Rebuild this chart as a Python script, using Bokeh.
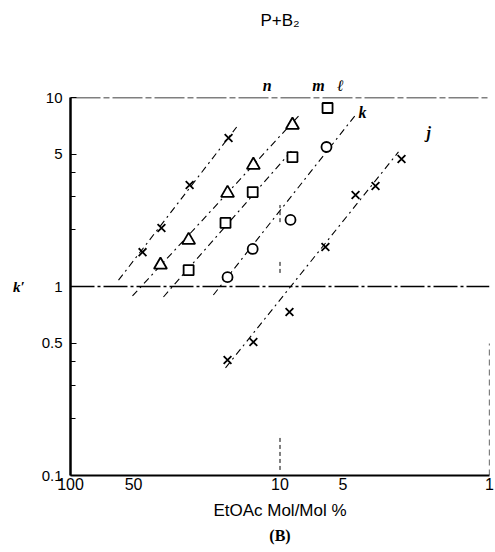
from bokeh.plotting import figure
from bokeh.models import (Range1d, FixedTicker, Span, Label, LogAxis,
                          AllLabels, CustomJSTickFormatter)
from bokeh.embed import file_html
from bokeh.resources import INLINE

# ---- data ----
# series n (x markers)
n_x = [45.3, 36.8, 27.0, 17.6]
n_y = [1.52, 2.04, 3.44, 6.1]
# series m (triangles)
m_x = [37.2, 27.3, 17.8, 13.4, 8.72]
m_y = [1.30, 1.76, 3.12, 4.39, 7.15]
# series l (squares)
l_x = [27.3, 18.2, 13.5, 8.72, 5.93]
l_y = [1.22, 2.17, 3.16, 4.84, 8.8]
# series k (circles)
k_x = [17.8, 13.5, 8.91, 6.0]
k_y = [1.12, 1.58, 2.25, 5.47]
# series j (x markers)
j_x = [17.8, 13.4, 9.01, 6.07, 4.36, 3.50, 2.63]
j_y = [0.408, 0.508, 0.733, 1.62, 3.05, 3.40, 4.73]

# fitted lines (end points)
n_fit_x = [59.0, 16.1]
n_fit_y = [1.08, 6.98]
m_fit_x = [50.6, 8.16]
m_fit_y = [0.891, 7.98]
l_fit_x = [36.0, 8.72]
l_fit_y = [0.880, 5.28]
k_fit_x = [20.8, 4.36]
k_fit_y = [0.902, 8.08]
j_fit_x = [18.2, 2.72]
j_fit_y = [0.371, 5.15]

# series labels above the frame (n, m, l) and inside (k, j)
top_names = ["n", "m", "\u2113"]
top_lab_x = [11.5, 6.55, 5.14]
in_names = ["k", "j"]
in_lab_x = [4.04, 1.95]
in_lab_y = [8.38, 6.49]

# reference line pieces at 10 %
ref_x = [10, 10, 10]
ref_y0 = [2.19, 1.18, 0.107]
ref_y1 = [2.70, 1.35, 0.164]

# tick labels
x_ticks = [100, 50, 10, 5, 1]
x_tick_labels = ["100", "50", "10", "5", "1"]
y_ticks = [0.1, 0.5, 1, 5, 10]
y_tick_labels = ["0.1", "0.5", "1", "5", "10"]
y_minor = [0.2, 0.3, 0.4, 2, 3, 4]

title_text = "P+B\u2082"
sub_text = "(B)"
x_label = "EtOAc Mol/Mol %"
y_label = "k\u2032"

FONT = "Liberation Sans"
SERIF = "Liberation Serif"

LOOKUP = """
for (let i = 0; i < tvals.length; i++) {
  if (Math.abs(tvals[i] - tick) <= 1e-6 * Math.abs(tvals[i])) { return tlabs[i]; }
}
return "";
"""


def fmt(vals, labs):
    return CustomJSTickFormatter(args=dict(tvals=list(vals), tlabs=list(labs)),
                                 code=LOOKUP)


p = figure(width=495, height=552, x_axis_type="log", y_axis_type="log",
           x_range=Range1d(100, 1), y_range=Range1d(0.1, 10),
           output_backend="svg", toolbar_location=None,
           min_border_left=70, min_border_right=6,
           min_border_top=97, min_border_bottom=77)
p.outline_line_color = None
p.xgrid.visible = False
p.ygrid.visible = False
p.background_fill_color = "white"
p.border_fill_color = "white"

# bottom axis
p.xaxis.ticker = FixedTicker(ticks=x_ticks)
p.xaxis.formatter = fmt(x_ticks, x_tick_labels)
p.xaxis.major_label_policy = AllLabels()
p.xaxis.major_tick_in = 0
p.xaxis.major_tick_out = 0
p.xaxis.minor_tick_in = 0
p.xaxis.minor_tick_out = 0
p.xaxis.axis_line_width = 2
p.xaxis.axis_line_color = "black"
p.xaxis.major_label_text_font = FONT
p.xaxis.major_label_text_font_size = "16px"
p.xaxis.major_label_text_color = "black"
p.xaxis.major_label_standoff = 2
p.xaxis.axis_label = x_label
p.xaxis.axis_label_text_font = FONT
p.xaxis.axis_label_text_font_size = "17px"
p.xaxis.axis_label_text_font_style = "normal"
p.xaxis.axis_label_text_color = "black"
p.xaxis.axis_label_standoff = 8

# left axis
p.yaxis.ticker = FixedTicker(ticks=y_ticks, minor_ticks=y_minor)
p.yaxis.formatter = fmt(y_ticks, y_tick_labels)
p.yaxis.major_label_policy = AllLabels()
p.yaxis.major_tick_in = 6
p.yaxis.major_tick_out = 0
p.yaxis.minor_tick_in = 5
p.yaxis.minor_tick_out = 0
p.yaxis.axis_line_width = 2.5
p.yaxis.axis_line_color = "black"
p.yaxis.major_label_text_font = FONT
p.yaxis.major_label_text_font_size = "15px"
p.yaxis.major_label_text_color = "black"
p.yaxis.major_label_standoff = 8
p.yaxis.axis_label = y_label
p.yaxis.axis_label_orientation = "horizontal"
p.yaxis.axis_label_text_font = SERIF
p.yaxis.axis_label_text_font_size = "15px"
p.yaxis.axis_label_text_font_style = "bold italic"
p.yaxis.axis_label_text_color = "black"
p.yaxis.axis_label_standoff = 14

# top axis carrying the series names n, m, l and the title
top = LogAxis(ticker=FixedTicker(ticks=top_lab_x),
              formatter=fmt(top_lab_x, top_names),
              major_label_policy=AllLabels(),
              axis_line_color=None, major_tick_in=0, major_tick_out=0,
              minor_tick_in=0, minor_tick_out=0,
              major_label_standoff=4,
              major_label_text_font=SERIF,
              major_label_text_font_style="bold italic",
              major_label_text_font_size="16px",
              major_label_text_color="black",
              axis_label=title_text, axis_label_standoff=44,
              axis_label_text_font=FONT, axis_label_text_font_style="normal",
              axis_label_text_font_size="17px", axis_label_text_color="black")
p.add_layout(top, "above")

# second bottom axis carrying only the sub-label "(B)"
sub = LogAxis(ticker=FixedTicker(ticks=[]),
              axis_line_color=None, major_tick_in=0, major_tick_out=0,
              minor_tick_in=0, minor_tick_out=0,
              axis_label=sub_text, axis_label_standoff=4,
              axis_label_text_font=SERIF, axis_label_text_font_style="bold",
              axis_label_text_font_size="16px", axis_label_text_color="black")
p.add_layout(sub, "below")

# frame pieces
p.add_layout(Span(location=10, dimension="width", line_color="black",
                  line_width=1.4, line_dash="30 3 6 3"))
p.add_layout(Span(location=1, dimension="width", line_color="black",
                  line_width=1.3, line_dash="24 3 3 3"))
p.segment(x0=[1], y0=[0.1], x1=[1], y1=[0.5], line_color="black",
          line_width=1.2, line_dash="6 4")
p.segment(x0=ref_x, y0=ref_y0, x1=ref_x, y1=ref_y1, line_color="black",
          line_width=1.0, line_dash="4 3")

# fitted lines
for fx, fy in [(n_fit_x, n_fit_y), (m_fit_x, m_fit_y), (l_fit_x, l_fit_y),
               (k_fit_x, k_fit_y), (j_fit_x, j_fit_y)]:
    p.line(fx, fy, line_color="black", line_width=1.1, line_dash="7 4 2 4")

# markers
p.scatter(n_x, n_y, marker="x", size=11, line_color="black", line_width=1.8)
p.scatter(j_x, j_y, marker="x", size=11, line_color="black", line_width=1.8)
p.scatter(m_x, m_y, marker="triangle", size=13, line_color="black",
          fill_color="white", line_width=1.8)
p.scatter(l_x, l_y, marker="square", size=10, line_color="black",
          fill_color="white", line_width=1.8)
p.scatter(k_x, k_y, marker="circle", size=10, line_color="black",
          fill_color="white", line_width=1.8)

# series labels inside the frame
for name, lx, ly in zip(in_names, in_lab_x, in_lab_y):
    p.add_layout(Label(x=lx, y=ly, text=name, text_align="center",
                       text_baseline="middle", text_font=SERIF,
                       text_font_style="bold italic", text_font_size="16px",
                       text_color="black"))

open("out.html", "w").write(file_html(p, INLINE))
